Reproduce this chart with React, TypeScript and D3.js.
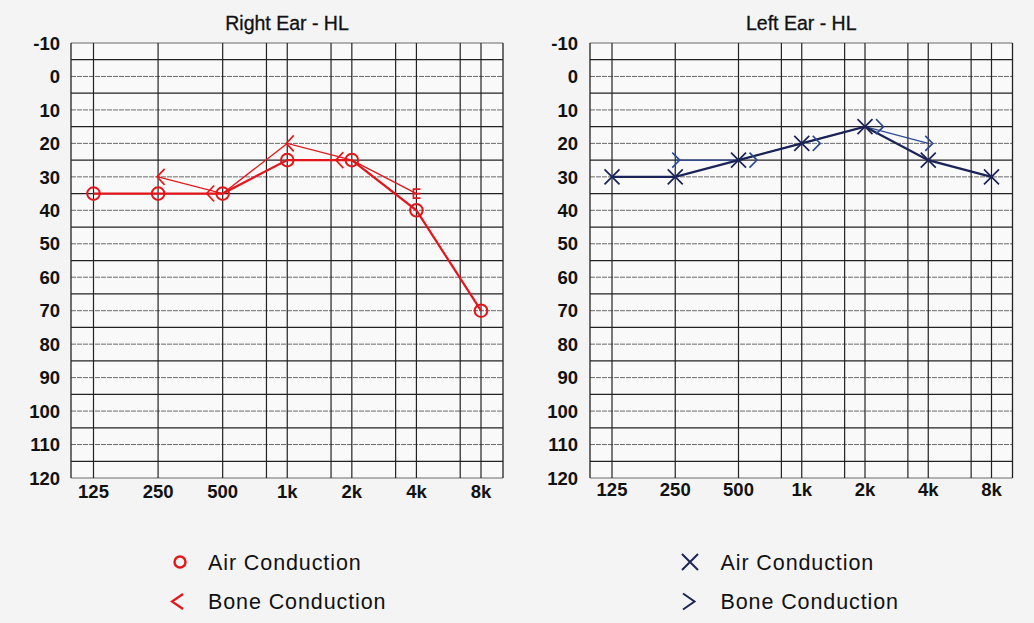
import React from 'react';
import * as d3 from 'd3';

// ---- data ----
const frequencies = [125, 250, 500, 1000, 2000, 4000, 8000];
const freqLabels = ['125', '250', '500', '1k', '2k', '4k', '8k'];
const midFrequencies = [800, 1600, 3200, 6400];
const dbTicks = [-10, 0, 10, 20, 30, 40, 50, 60, 70, 80, 90, 100, 110, 120];

const rightAir = [35, 35, 35, 25, 25, 40, 70];
const rightBoneFreqs = [250, 500, 1000, 2000, 4000];
const rightBone = [30, 35, 20, 25, 35];
const rightBoneSymbols = ['<', '<', '<', '<', '['];

const leftAir = [30, 30, 25, 20, 15, 25, 30];
const leftBoneFreqs = [250, 500, 1000, 2000, 4000];
const leftBone = [25, 25, 20, 15, 20];
const leftBoneSymbols = ['>', '>', '>', '>', '>'];

const RED = '#e3161b';
const NAVY = '#1b2458';
const NAVY_BONE = '#2c4996';
const FONT = '"Liberation Sans", Arial, Helvetica, sans-serif';

type PanelProps = {
  title: string;
  plotLeft: number;
  plotRight: number;
  x0: number;
  x1: number;
  tickRight: number;
  xLabelY: number;
  air: number[];
  boneFreqs: number[];
  bone: number[];
  boneSymbols: string[];
  airColor: string;
  boneColor: string;
  airMarker: 'circle' | 'x';
  boneShift: number;
};

const top = 43;
const bottom = 478;

function symbolPath(sym: string): string {
  switch (sym) {
    case '<':
      return 'M6.5,-8 L-1,0 L6.5,8';
    case '>':
      return 'M-3,-7.5 L4.5,0 L-3,7.5';
    case '[':
      return 'M4,-4.5 H-3 V4.5 H4 M-3,0 H4';
    default:
      return '';
  }
}

function Panel(p: PanelProps) {
  const y = d3.scaleLinear().domain([-10, 120]).range([top, bottom]);
  const x = d3.scaleLog().base(2).domain([125, 8000]).range([p.x0, p.x1]);
  const gridDb = d3.range(-10, 121, 5);
  const line = d3
    .line<[number, number]>()
    .x((d) => x(d[0]))
    .y((d) => y(d[1]));
  const airPts: [number, number][] = frequencies.map((f, i) => [f, p.air[i]]);
  const bonePts: [number, number][] = p.boneFreqs.map((f, i) => [f, p.bone[i]]);
  const cx = (p.plotLeft + p.plotRight) / 2;
  return (
    <g>
      <rect
        x={p.plotLeft}
        y={top}
        width={p.plotRight - p.plotLeft}
        height={bottom - top}
        fill="#f9f9f9"
      />
      {gridDb.map((d) => {
        const major = d % 10 === 0;
        return (
          <line
            key={'h' + d}
            x1={p.plotLeft}
            x2={p.plotRight}
            y1={y(d)}
            y2={y(d)}
            stroke={major ? '#6a6a6a' : '#222'}
            strokeWidth={major ? 1 : 1.25}
            strokeDasharray={major && d !== -10 && d !== 120 ? '5,1' : undefined}
          />
        );
      })}
      {[...frequencies, ...midFrequencies].map((f) => (
        <line
          key={'v' + f}
          x1={x(f)}
          x2={x(f)}
          y1={top}
          y2={bottom}
          stroke="#222"
          strokeWidth={1.2}
        />
      ))}
      <line x1={p.plotLeft} x2={p.plotLeft} y1={top} y2={bottom} stroke="#222" strokeWidth={1.3} />
      <line x1={p.plotRight} x2={p.plotRight} y1={top} y2={bottom} stroke="#222" strokeWidth={1.3} />
      <text
        x={cx}
        y={30}
        textAnchor="middle"
        fontFamily={FONT}
        fontSize={19.5}
        fill="#111"
        stroke="#111"
        strokeWidth={0.3}
      >
        {p.title}
      </text>
      {dbTicks.map((d) => (
        <text
          key={'yt' + d}
          x={p.tickRight}
          y={y(d)}
          dy="0.36em"
          textAnchor="end"
          fontFamily={FONT}
          fontWeight="bold"
          fontSize={18.5}
          fill="#111"
        >
          {d}
        </text>
      ))}
      {frequencies.map((f, i) => (
        <text
          key={'xt' + f}
          x={x(f)}
          y={p.xLabelY}
          textAnchor="middle"
          fontFamily={FONT}
          fontWeight="bold"
          fontSize={18.5}
          fill="#111"
        >
          {freqLabels[i]}
        </text>
      ))}
      {/* bone line */}
      <path d={line(bonePts) || ''} fill="none" stroke={p.boneColor} strokeWidth={1.3} />
      {/* air line */}
      <path d={line(airPts) || ''} fill="none" stroke={p.airColor} strokeWidth={2.2} />
      {airPts.map((d) =>
        p.airMarker === 'circle' ? (
          <circle
            key={'a' + d[0]}
            cx={x(d[0])}
            cy={y(d[1])}
            r={6.3}
            fill="none"
            stroke={p.airColor}
            strokeWidth={2}
          />
        ) : (
          <path
            key={'a' + d[0]}
            transform={`translate(${x(d[0])},${y(d[1])})`}
            d="M-7.5,-7.5 L7.5,7.5 M-7.5,7.5 L7.5,-7.5"
            fill="none"
            stroke={p.airColor}
            strokeWidth={1.7}
          />
        )
      )}
      {bonePts.map((d, i) => {
        const ai = frequencies.indexOf(d[0]);
        const shift = p.air[ai] === d[1] ? p.boneShift : 0;
        return (
          <path
            key={'b' + d[0]}
            transform={`translate(${x(d[0]) + shift},${y(d[1])})`}
            d={symbolPath(p.boneSymbols[i])}
            fill="none"
            stroke={p.boneColor}
            strokeWidth={1.6}
          />
        );
      })}
    </g>
  );
}

export default function App() {
  return (
    <svg
      width={1034}
      height={623}
      style={{ position: 'absolute', left: 0, top: 0, display: 'block' }}
    >
      <rect width={1034} height={623} fill="#f4f4f4" />
      <Panel
        title="Right Ear - HL"
        plotLeft={71}
        plotRight={503}
        x0={93.5}
        x1={481}
        tickRight={60}
        xLabelY={498}
        air={rightAir}
        boneFreqs={rightBoneFreqs}
        bone={rightBone}
        boneSymbols={rightBoneSymbols}
        airColor={RED}
        boneColor={RED}
        airMarker="circle"
        boneShift={-15}
      />
      <Panel
        title="Left Ear - HL"
        plotLeft={590}
        plotRight={1012.5}
        x0={612}
        x1={991.5}
        tickRight={578}
        xLabelY={496}
        air={leftAir}
        boneFreqs={leftBoneFreqs}
        bone={leftBone}
        boneSymbols={leftBoneSymbols}
        airColor={NAVY}
        boneColor={NAVY_BONE}
        airMarker="x"
        boneShift={14}
      />
      {/* legends */}
      <g fontFamily={FONT} fontSize={21.5} fill="#111" letterSpacing={0.9}>
        <circle cx={180} cy={562} r={5.5} fill="none" stroke={RED} strokeWidth={2.4} />
        <path d="M183,594 L172,601.5 L183,609" fill="none" stroke={RED} strokeWidth={2.2} />
        <text x={208} y={569.5}>Air Conduction</text>
        <text x={208} y={609}>Bone Conduction</text>

        <path d="M682,554 L698,570 M682,570 L698,554" fill="none" stroke={NAVY} strokeWidth={2} />
        <path d="M683,593.5 L694.5,601.5 L683,609.5" fill="none" stroke={NAVY} strokeWidth={2} />
        <text x={720.5} y={569.5}>Air Conduction</text>
        <text x={720.5} y={609}>Bone Conduction</text>
      </g>
    </svg>
  );
}
